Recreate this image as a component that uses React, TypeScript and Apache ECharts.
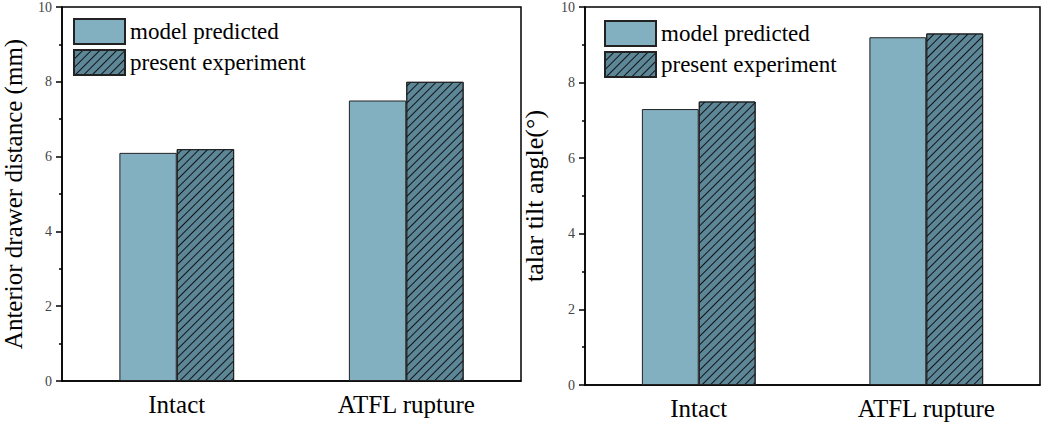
import React, { useEffect, useRef } from "react";
import * as echarts from "echarts";

const categories = ["Intact", "ATFL rupture"];
const seriesNames = ["model predicted", "present experiment"];
const drawerModel = [6.1, 7.5];
const drawerExperiment = [6.2, 8.0];
const tiltModel = [7.3, 9.2];
const tiltExperiment = [7.5, 9.3];
const leftYTitle = "Anterior drawer distance (mm)";
const rightYTitle = "talar tilt angle(°)";

const SERIF = "'Liberation Serif', 'Times New Roman', serif";
const LIGHT = "#82B0C1";
const DARK = "#5D8696";

const hatch = {
  symbol: "rect",
  symbolSize: 1,
  dashArrayX: [1, 0],
  dashArrayY: [1, 5],
  rotation: -Math.PI / 4,
  color: "rgba(0,0,0,0.85)",
};

export default function App() {
  const ref = useRef<HTMLDivElement>(null);
  useEffect(() => {
    if (!ref.current) return;
    const chart = echarts.init(ref.current, null, { renderer: "svg" });
    const grids = [
      { left: 57, top: 7, width: 464, height: 374 },
      { left: 585, top: 7, width: 455, height: 378 },
    ];
    const mkX = (gi: number) => [
      {
        type: "category",
        gridIndex: gi,
        data: categories,
        axisLine: { lineStyle: { color: "#000", width: 1.5 } },
        axisTick: { alignWithLabel: true, length: 6, lineStyle: { color: "#000", width: 1.5 } },
        axisLabel: { color: "#000", fontFamily: SERIF, fontSize: 25, margin: 11 },
      },
      {
        type: "category",
        gridIndex: gi,
        position: "bottom",
        data: categories,
        axisLine: { show: false },
        axisTick: { alignWithLabel: false, length: 3, lineStyle: { color: "#000", width: 1.5 } },
        axisLabel: { show: false },
      },
    ];
    const mkY = (gi: number, name: string, gap: number, size: number) => ({
      type: "value",
      gridIndex: gi,
      min: 0,
      max: 10,
      interval: 2,
      name,
      nameLocation: "middle",
      nameGap: gap,
      nameTextStyle: { color: "#000", fontFamily: SERIF, fontSize: size },
      axisLine: { show: true, lineStyle: { color: "#000", width: 1.5 } },
      axisTick: { show: true, length: 6, lineStyle: { color: "#000", width: 1.5 } },
      minorTick: { show: true, splitNumber: 2, length: 3, lineStyle: { color: "#000", width: 1.5 } },
      splitLine: { show: false },
      axisLabel: { color: "#444", fontFamily: SERIF, fontSize: 14, margin: 10 },
    });
    const bar = (name: string, data: number[], xi: number, yi: number, dark: boolean) => ({
      type: "bar",
      name,
      data,
      xAxisIndex: xi,
      yAxisIndex: yi,
      barWidth: "25%",
      barGap: "0%",
      itemStyle: dark
        ? { color: DARK, borderColor: "#222", borderWidth: 1, decal: hatch }
        : { color: LIGHT, borderColor: "#222", borderWidth: 1 },
    });
    const legend = (left: number, top: number) => ({
      left,
      top,
      padding: 0,
      orient: "vertical",
      itemWidth: 51,
      itemHeight: 25,
      itemGap: 4,
      selectedMode: false,
      icon: "rect",
      data: seriesNames,
      textStyle: { color: "#000", fontFamily: SERIF, fontSize: 23, padding: [0, 0, 0, 0] },
    });
    chart.setOption({
      animation: false,
      grid: grids.map((g) => ({ ...g, show: true, borderColor: "#000", borderWidth: 1.5, backgroundColor: "transparent" })),
      xAxis: [...mkX(0), ...mkX(1)],
      yAxis: [mkY(0, leftYTitle, 36, 25), mkY(1, rightYTitle, 38, 26)],
      legend: [legend(73, 18), legend(604, 20)],
      series: [
        bar(seriesNames[0], drawerModel, 0, 0, false),
        bar(seriesNames[1], drawerExperiment, 0, 0, true),
        bar(seriesNames[0], tiltModel, 2, 1, false),
        bar(seriesNames[1], tiltExperiment, 2, 1, true),
      ],
    });
    return () => chart.dispose();
  }, []);
  return (
    <div
      ref={ref}
      style={{ position: "fixed", left: 0, top: 0, width: 1059, height: 424, background: "#fff" }}
    />
  );
}
